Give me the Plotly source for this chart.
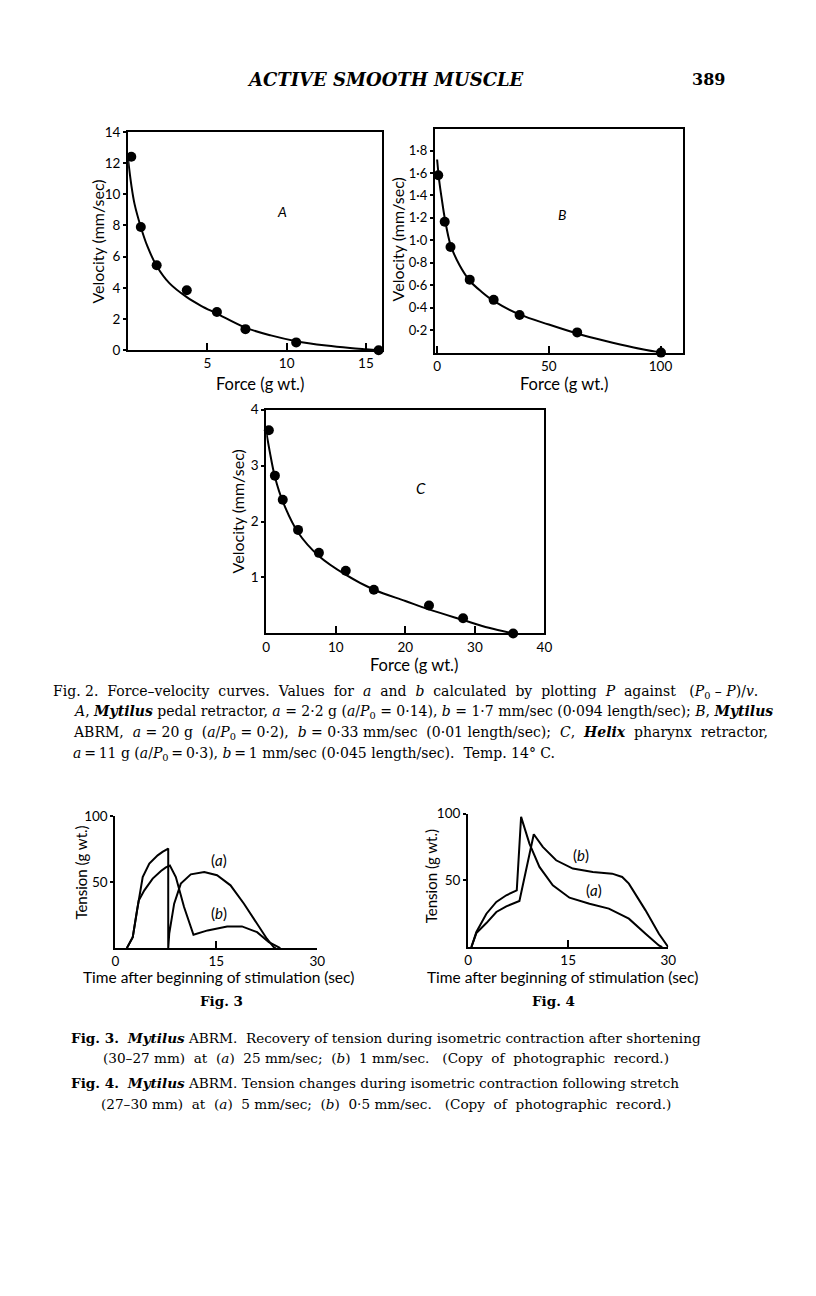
import plotly.graph_objects as go

W, H = 800, 1280
# observed mapping of figure pixels onto the photographed page
SX, OX = 0.989, 10.4
SY, OY = 0.986, 17.0

# ---------------- Fig. 2 A ----------------
a_force = [0.2, 0.8, 1.8, 3.7, 5.6, 7.4, 10.6, 15.8]
a_vel = [12.4, 7.9, 5.45, 3.85, 2.45, 1.35, 0.5, 0.0]
a_fit_force = [0, 0.2, 0.4, 0.8, 1.2, 1.8, 2.6, 3.7, 4.6, 5.6, 7.4, 9, 10.6, 12.5, 14, 15, 15.8]
a_fit_vel = [12.2, 10.6, 9.4, 7.9, 6.7, 5.4, 4.3, 3.4, 2.85, 2.35, 1.45, 0.95, 0.58, 0.3, 0.14, 0.06, 0]
a_xticks = [5, 10, 15]
a_yticks = [0, 2, 4, 6, 8, 10, 12, 14]

# ---------------- Fig. 2 B ----------------
b_force = [0.5, 3.4, 6.0, 14.6, 25.3, 36.9, 62.7, 100.2]
b_vel = [1.58, 1.165, 0.94, 0.65, 0.47, 0.335, 0.18, 0.0]
b_fit_force = [0, 1, 2, 3.4, 6, 10, 14.6, 20, 25.3, 36.9, 50, 62.7, 75, 88, 100]
b_fit_vel = [1.72, 1.52, 1.38, 1.2, 0.96, 0.78, 0.64, 0.54, 0.46, 0.34, 0.25, 0.17, 0.105, 0.045, 0]
b_xticks = [0, 50, 100]
b_yticks = [0.2, 0.4, 0.6, 0.8, 1.0, 1.2, 1.4, 1.6, 1.8]
b_yticklabels = ["0·2", "0·4", "0·6", "0·8", "1·0", "1·2", "1·4", "1·6", "1·8"]

# ---------------- Fig. 2 C ----------------
c_force = [0.37, 1.24, 2.37, 4.57, 7.57, 11.43, 15.47, 23.4, 28.3, 35.5]
c_vel = [3.63, 2.82, 2.39, 1.85, 1.44, 1.12, 0.78, 0.5, 0.27, 0.0]
c_fit_force = [0, 0.5, 1.24, 2.4, 4.6, 7.6, 11.4, 15.5, 20, 23.4, 28.3, 32, 35.5]
c_fit_vel = [3.6, 3.25, 2.8, 2.35, 1.8, 1.38, 1.05, 0.78, 0.58, 0.43, 0.24, 0.1, 0]
c_xticks = [0, 10, 20, 30, 40]
c_yticks = [1, 2, 3, 4]

# ---------------- Fig. 3 ----------------
f3a_time = [1.7, 2.58, 3.22, 3.47, 4.06, 5.04, 6.28, 7.0, 7.85, 7.85, 8.0, 8.73, 9.72,
            11.2, 13.2, 15.1, 17.1, 19.1, 21.0, 22.5, 23.5, 23.8]
f3a_tension = [0, 8.3, 28.6, 36, 53.8, 63.9, 70.2, 72.8, 75.3, 0, 10.9, 33.6, 48.8,
               55.8, 57.6, 55.1, 47.5, 33.6, 18.4, 7.1, 0.8, 0]
f3b_time = [1.7, 2.58, 3.22, 3.47, 4.3, 5.54, 6.77, 7.5, 8.1, 8.98, 10.2, 11.6, 13.7,
            16.6, 18.8, 21.05, 22.8, 24.5]
f3b_tension = [0, 8.3, 28.6, 36, 43.7, 52.6, 58.3, 61, 62.5, 53.8, 31.1, 10.1, 13.4,
               16.4, 16.4, 12.1, 4.5, 0]

# ---------------- Fig. 4 ----------------
f4a_time = [0.5, 1.25, 2.75, 4.24, 5.73, 6.9, 7.3, 7.95, 9.2, 10.7, 12.7, 15.2, 18.2,
            21.1, 24.1, 26.6, 28.6, 29.1]
f4a_tension = [0, 11.3, 25, 33.8, 38.8, 41.8, 42.5, 97.5, 77.5, 60, 46.3, 37, 32.5,
               28.8, 21.3, 10, 1.2, 0]
f4b_time = [0.5, 1.25, 2.75, 4.24, 5.73, 7.0, 7.7, 9.85, 11.2, 13.2, 15.7, 18.7, 21.6,
            23.1, 24.1, 26.6, 28.6, 30]
f4b_tension = [0, 10.5, 18, 26.3, 30.5, 33, 34.5, 84.5, 75, 65, 58.8, 56.3, 55,
               52.5, 47.5, 27.5, 10, 0]
time_ticks = [0, 15, 30]
tension_ticks = [50, 100]

SANS = "Lato"
SERIF = "DejaVu Serif"


def px(x):
    return ((x - OX) / SX) / W


def py(y):
    return 1 - ((y - OY) / SY) / H


fig = go.Figure()

line_style = dict(color="black", width=2)
marker_style = dict(color="black", size=10)

fig.add_trace(go.Scatter(x=a_fit_force, y=a_fit_vel, mode="lines", line=dict(shape="spline", **line_style), xaxis="x", yaxis="y"))
fig.add_trace(go.Scatter(x=a_force, y=a_vel, mode="markers", marker=marker_style, xaxis="x", yaxis="y", cliponaxis=False))
fig.add_trace(go.Scatter(x=b_fit_force, y=b_fit_vel, mode="lines", line=dict(shape="spline", **line_style), xaxis="x2", yaxis="y2"))
fig.add_trace(go.Scatter(x=b_force, y=b_vel, mode="markers", marker=marker_style, xaxis="x2", yaxis="y2", cliponaxis=False))
fig.add_trace(go.Scatter(x=c_fit_force, y=c_fit_vel, mode="lines", line=dict(shape="spline", **line_style), xaxis="x3", yaxis="y3"))
fig.add_trace(go.Scatter(x=c_force, y=c_vel, mode="markers", marker=marker_style, xaxis="x3", yaxis="y3", cliponaxis=False))
fig.add_trace(go.Scatter(x=f3a_time, y=f3a_tension, mode="lines", line=line_style, xaxis="x4", yaxis="y4"))
fig.add_trace(go.Scatter(x=f3b_time, y=f3b_tension, mode="lines", line=line_style, xaxis="x4", yaxis="y4"))
fig.add_trace(go.Scatter(x=f4a_time, y=f4a_tension, mode="lines", line=line_style, xaxis="x5", yaxis="y5"))
fig.add_trace(go.Scatter(x=f4b_time, y=f4b_tension, mode="lines", line=line_style, xaxis="x5", yaxis="y5"))

tickfont = dict(family=SANS, size=13.5, color="black")


def xax(domain, rng, ticks, mirror=True, labels=None, anchor="y"):
    d = dict(domain=domain, range=rng, tickmode="array", tickvals=ticks,
             ticks="inside", ticklen=7, tickwidth=2, tickcolor="black",
             showline=True, linewidth=2, linecolor="black", mirror=mirror,
             showgrid=False, zeroline=False, tickfont=tickfont, anchor=anchor,
             fixedrange=True)
    if labels is not None:
        d["ticktext"] = labels
    return d


def yax(domain, rng, ticks, mirror=True, labels=None, anchor="x", font=tickfont):
    d = dict(domain=domain, range=rng, tickmode="array", tickvals=ticks,
             ticks="outside", ticklen=3, tickwidth=2, tickcolor="black",
             showline=True, linewidth=2, linecolor="black", mirror=mirror,
             showgrid=False, zeroline=False, tickfont=font, anchor=anchor,
             ticklabelstandoff=0, fixedrange=True)
    if labels is not None:
        d["ticktext"] = labels
    return d


fig.update_layout(
    width=W, height=H, margin=dict(l=0, r=0, t=0, b=0),
    paper_bgcolor="white", plot_bgcolor="white", showlegend=False,
    xaxis=xax([px(127), px(381.7)], [0, 16], a_xticks, anchor="y"),
    yaxis=yax([py(350.7), py(132.7)], [0, 14], a_yticks, anchor="x"),
    xaxis2=xax([px(435), px(684)], [-1, 110], b_xticks, anchor="y2"),
    yaxis2=yax([py(353.1), py(130)], [0, 1.99], b_yticks, labels=b_yticklabels, anchor="x2",
               font=dict(family=SANS, size=13, color="black")),
    xaxis3=xax([px(265.7), px(545)], [0, 40], c_xticks, anchor="y3"),
    yaxis3=yax([py(633.5), py(410)], [0, 4], c_yticks, anchor="x3"),
    xaxis4=xax([px(114.2), px(317)], [0, 30], time_ticks, mirror=False, anchor="y4"),
    yaxis4=yax([py(947.7), py(815.7)], [0, 100], tension_ticks, mirror=False, anchor="x4"),
    xaxis5=xax([px(468.3), px(669.3)], [0, 30], time_ticks, mirror=False, anchor="y5"),
    yaxis5=yax([py(946.7), py(813.3)], [0, 100], tension_ticks, mirror=False, anchor="x5"),
)


def ann(text, x, y, size=14, family=SANS, xanchor="center", yanchor="middle", angle=0, **kw):
    fig.add_annotation(text=text, x=px(x), y=py(y), xref="paper", yref="paper",
                       showarrow=False, xanchor=xanchor, yanchor=yanchor, textangle=angle,
                       font=dict(family=family, size=size, color="black"), **kw)


# header
ann("<b><i>ACTIVE SMOOTH MUSCLE</i></b>", 385, 80, size=18, family=SERIF)
ann("<b>389</b>", 710, 80, size=16, family=SERIF)

# axis titles & panel letters
ann("Velocity (mm/sec)", 96, 242, size=16, angle=-90)
ann("Force (g wt.)", 259, 384, size=16.5)
ann("<i>A</i>", 281, 212, size=14)
ann("Velocity (mm/sec)", 397, 240, size=16, angle=-90)
ann("Force (g wt.)", 565, 384, size=16.5)
ann("<i>B</i>", 563, 215, size=14)
ann("Velocity (mm/sec)", 237, 512, size=16, angle=-90)
ann("Force (g wt.)", 414, 665, size=16.5)
ann("<i>C</i>", 421, 488, size=15)

# Fig 3 / Fig 4 labels
ann("Tension (g wt.)", 80, 872, size=15, angle=-90)
ann("(<i>a</i>)", 218, 860, size=15)
ann("(<i>b</i>)", 218, 913, size=15)
ann("Time after beginning of stimulation (sec)", 218, 977, size=15.5)
ann("<b>Fig. 3</b>", 221, 1001, size=13.5, family=SERIF)
ann("Tension (g wt.)", 431, 876, size=15, angle=-90)
ann("(<i>b</i>)", 582, 855, size=15)
ann("(<i>a</i>)", 595, 890, size=15)
ann("Time after beginning of stimulation (sec)", 563, 977, size=15.5)
ann("<b>Fig. 4</b>", 554, 1001, size=13.5, family=SERIF)

# captions
CS = 14
ann("Fig. 2.  Force–velocity  curves.  Values  for  <i>a</i>  and  <i>b</i>  calculated  by  plotting  <i>P</i>  against   (<i>P</i><sub>0</sub> – <i>P</i>)/<i>v</i>.",
    50, 692, size=CS, family=SERIF, xanchor="left")
ann("<i>A</i>, <b><i>Mytilus</i></b> pedal retractor, <i>a</i> = 2·2 g (<i>a</i>/<i>P</i><sub>0</sub> = 0·14), <i>b</i> = 1·7 mm/sec (0·094 length/sec); <i>B</i>, <b><i>Mytilus</i></b>",
    70, 712, size=CS, family=SERIF, xanchor="left")
ann("ABRM,  <i>a</i> = 20 g  (<i>a</i>/<i>P</i><sub>0</sub> = 0·2),  <i>b</i> = 0·33 mm/sec  (0·01 length/sec);  <i>C</i>,  <b><i>Helix</i></b>  pharynx  retractor,",
    70, 733, size=CS, family=SERIF, xanchor="left")
ann("<i>a</i>\u2009=\u200911 g (<i>a</i>/<i>P</i><sub>0</sub>\u2009=\u20090·3), <i>b</i>\u2009=\u20091 mm/sec (0·045 length/sec).  Temp. 14° C.",
    70, 754, size=CS, family=SERIF, xanchor="left")

CS2 = 13.6
ann("<b>Fig. 3.</b>  <b><i>Mytilus</i></b> ABRM.  Recovery of tension during isometric contraction after shortening",
    68, 1037, size=CS2, family=SERIF, xanchor="left")
ann("(30–27 mm)  at  (<i>a</i>)  25 mm/sec;  (<i>b</i>)  1 mm/sec.   (Copy  of  photographic  record.)",
    386, 1057, size=CS2, family=SERIF)
ann("<b>Fig. 4.</b>  <b><i>Mytilus</i></b> ABRM. Tension changes during isometric contraction following stretch",
    68, 1082, size=CS2, family=SERIF, xanchor="left")
ann("(27–30 mm)  at  (<i>a</i>)  5 mm/sec;  (<i>b</i>)  0·5 mm/sec.   (Copy  of  photographic  record.)",
    386, 1103, size=CS2, family=SERIF)

fig.write_html("out.html")
